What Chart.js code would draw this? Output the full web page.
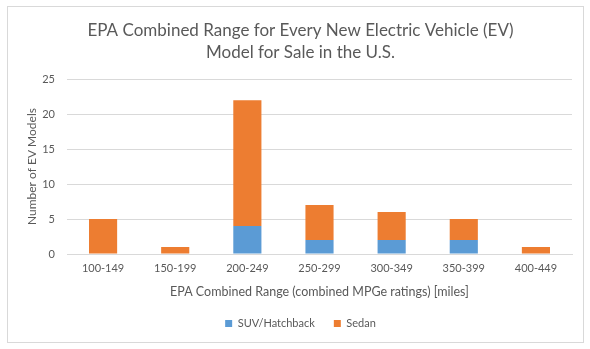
<!DOCTYPE html>
<html>
<head>
<meta charset="utf-8">
<script src="https://cdn.jsdelivr.net/npm/chart.js@4.4.1/dist/chart.umd.min.js"></script>
<style>
html,body{margin:0;padding:0;background:#fff;}
#wrap{position:relative;width:590px;height:349px;}
</style>
</head>
<body>
<div id="wrap"><canvas id="c" width="590" height="349"></canvas></div>
<script>
const categories = ["100-149","150-199","200-249","250-299","300-349","350-399","400-449"];
const suvHatchback = [0,0,4,2,2,2,0];
const sedan = [5,1,18,5,4,3,1];
const yTicks = [0,5,10,15,20,25];

const FONT = "Lato, 'Open Sans', sans-serif";
const TXT = "#595959";

const borderPlugin = {
  id: 'outerBorder',
  afterDraw(chart) {
    const ctx = chart.ctx;
    ctx.save();
    ctx.strokeStyle = '#d9d9d9';
    ctx.lineWidth = 1;
    ctx.strokeRect(7.5, 6.5, 576, 336);
    ctx.restore();
  }
};
const bgPlugin = {
  id: 'bg',
  beforeDraw(chart){ const c=chart.ctx; c.save(); c.fillStyle='#fff'; c.fillRect(0,0,chart.width,chart.height); c.restore(); }
};

new Chart(document.getElementById('c'), {
  type: 'bar',
  data: {
    labels: categories,
    datasets: [
      { label: 'SUV/Hatchback', data: suvHatchback, backgroundColor: '#5b9bd5', barPercentage: 0.39, categoryPercentage: 1.0 },
      { label: 'Sedan', data: sedan, backgroundColor: '#ed7d31', barPercentage: 0.39, categoryPercentage: 1.0 }
    ]
  },
  options: {
    responsive: false,
    animation: false,
    devicePixelRatio: 1,
    layout: { padding: { left: 29, right: 18, top: 0, bottom: 10 } },
    plugins: {
      title: {
        display: true,
        text: ['EPA Combined Range for Every New Electric Vehicle (EV)', 'Model for Sale in the U.S.'],
        color: TXT,
        font: { family: FONT, size: 17, weight: 'normal', lineHeight: 1.3 },
        padding: { top: 19, bottom: 16 }
      },
      legend: {
        position: 'bottom',
        labels: { color: TXT, font: { family: FONT, size: 11 }, boxWidth: 7, boxHeight: 7, padding: 19 }
      },
      tooltip: { enabled: false }
    },
    scales: {
      x: {
        stacked: true,
        grid: { display: false, drawTicks: false },
        border: { color: '#d9d9d9' },
        ticks: { color: TXT, font: { family: FONT, size: 11 }, padding: 8, maxRotation: 0 },
        title: { display: true, text: 'EPA Combined Range (combined MPGe ratings) [miles]', color: TXT, font: { family: FONT, size: 12.5 }, padding: { top: 0, bottom: 0 } },
        afterFit(scale) { scale.height = 45; }
      },
      y: {
        stacked: true,
        min: 0, max: 25,
        afterBuildTicks(scale) { scale.ticks = yTicks.map(v => ({ value: v })); },
        grid: { color: '#d9d9d9', drawTicks: false },
        border: { display: false },
        ticks: { color: TXT, font: { family: FONT, size: 11 }, padding: 12 },
        title: { display: true, text: 'Number of EV Models', color: TXT, font: { family: FONT, size: 12 }, padding: { top: -4, bottom: 0 } },
        afterFit(scale) { scale.width = 38; }
      }
    }
  },
  plugins: [bgPlugin, borderPlugin]
});
</script>
</body>
</html>
